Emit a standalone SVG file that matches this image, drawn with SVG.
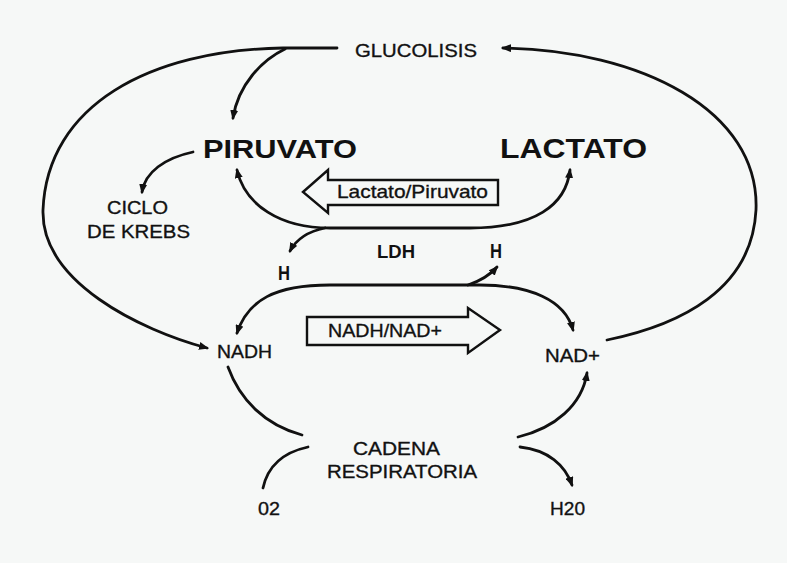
<svg xmlns="http://www.w3.org/2000/svg" width="787" height="563" viewBox="0 0 787 563">
<defs>
<style>
.bg{fill:#f6f8f7}
.ln{fill:none;stroke:#111;stroke-width:2.8;stroke-linecap:round}
.big{fill:none;stroke:#111;stroke-width:2.4;stroke-linejoin:miter}
.t{font-family:"Liberation Sans",Arial,sans-serif;font-size:19px;fill:#111;stroke:#111;stroke-width:0.35}
.b{font-family:"Liberation Sans",Arial,sans-serif;font-weight:bold;fill:#111}
</style>
<marker id="ah" viewBox="0 0 10 8" refX="8" refY="4" markerWidth="10" markerHeight="8" markerUnits="userSpaceOnUse" orient="auto-start-reverse">
<path d="M0,0 L10,4 L0,8 z" fill="#111"/>
</marker>
</defs>
<rect class="bg" x="0" y="0" width="787" height="563"/>

<g id="connectors">
<path class="ln" d="M337,48 L283,48 C150,50 47,105 43,210 C41,282 140,330 207,348" marker-end="url(#ah)"/>
<path class="ln" d="M285,49 C262,60 238,85 233,118" marker-end="url(#ah)"/>
<path class="ln" d="M607,340 C680,325 752,290 756,210 C760,110 640,50 503,48" marker-end="url(#ah)"/>
<path class="ln" d="M193,152 C165,158 145,172 142,192" marker-end="url(#ah)"/>
<path class="ln" d="M570,170 C566,205 535,228 470,228 L330,228 C280,228 245,205 237,170" marker-start="url(#ah)" marker-end="url(#ah)"/>
<path class="ln" d="M325,228 C310,231 297,238 290,251" marker-end="url(#ah)"/>
<path class="ln" d="M237,333 C248,300 275,285 330,285 L480,285 C530,285 565,300 573,330" marker-start="url(#ah)" marker-end="url(#ah)"/>
<path class="ln" d="M468,285 C480,281 490,275 497,267" marker-end="url(#ah)"/>
<path class="ln" d="M228,367 C240,400 265,425 302,435"/>
<path class="ln" d="M263,488 C268,465 285,452 308,447"/>
<path class="ln" d="M518,437 C555,428 582,405 587,373" marker-end="url(#ah)"/>
<path class="ln" d="M520,447 C548,450 565,465 572,485" marker-end="url(#ah)"/>
</g>

<g id="glucolisis"><text class="t" x="355" y="57" textLength="122" lengthAdjust="spacingAndGlyphs">GLUCOLISIS</text></g>
<g id="piruvato"><text class="b" x="203" y="158" font-size="26" textLength="154" lengthAdjust="spacingAndGlyphs">PIRUVATO</text></g>
<g id="lactato"><text class="b" x="500" y="158" font-size="28" textLength="147" lengthAdjust="spacingAndGlyphs">LACTATO</text></g>
<g id="krebs">
<text class="t" x="107" y="214" textLength="61" lengthAdjust="spacingAndGlyphs">CICLO</text>
<text class="t" x="87" y="238" textLength="103" lengthAdjust="spacingAndGlyphs">DE KREBS</text>
</g>
<g id="lactato-piruvato">
<polygon class="big" points="303,192 328,170 328,180 498,180 498,205 328,205 328,213"/>
<text class="t" x="337" y="198" textLength="151" lengthAdjust="spacingAndGlyphs">Lactato/Piruvato</text>
</g>
<g id="ldh"><text class="b" x="377" y="258" font-size="18" textLength="38" lengthAdjust="spacingAndGlyphs">LDH</text></g>
<g id="h-left"><text class="b" x="284" y="280" font-size="20" text-anchor="middle" textLength="12" lengthAdjust="spacingAndGlyphs">H</text></g>
<g id="h-right"><text class="b" x="496" y="258" font-size="20" text-anchor="middle" textLength="12" lengthAdjust="spacingAndGlyphs">H</text></g>
<g id="nadh-nad">
<polygon class="big" points="307,317 468,317 468,308 500,330 468,353 468,345 307,345"/>
<text class="t" x="328" y="337" textLength="114" lengthAdjust="spacingAndGlyphs">NADH/NAD+</text>
</g>
<g id="nadh"><text class="t" x="217" y="358" textLength="55" lengthAdjust="spacingAndGlyphs">NADH</text></g>
<g id="nadplus"><text class="t" x="545" y="362" textLength="55" lengthAdjust="spacingAndGlyphs">NAD+</text></g>
<g id="cadena">
<text class="t" x="353" y="455" textLength="87" lengthAdjust="spacingAndGlyphs">CADENA</text>
<text class="t" x="327" y="478" textLength="150" lengthAdjust="spacingAndGlyphs">RESPIRATORIA</text>
</g>
<g id="o2"><text class="t" x="258" y="515" textLength="22" lengthAdjust="spacingAndGlyphs">02</text></g>
<g id="h2o"><text class="t" x="550" y="515" textLength="35" lengthAdjust="spacingAndGlyphs">H20</text></g>
</svg>
